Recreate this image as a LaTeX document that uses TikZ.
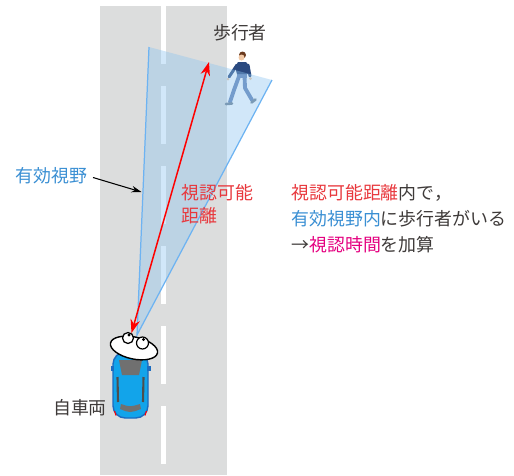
\documentclass[tikz,border=0pt]{standalone}
\usepackage{fontspec}
\setmainfont{Noto Sans CJK JP}
\usetikzlibrary{arrows.meta}
\definecolor{roadgray}{HTML}{DCDDDD}
\definecolor{viewblue}{HTML}{8CC4F0}
\definecolor{edgeblue}{HTML}{6DB3F2}
\definecolor{textred}{HTML}{E8383D}
\definecolor{arrowred}{HTML}{FF0000}
\definecolor{textblue}{HTML}{3A8FD3}
\definecolor{textpink}{HTML}{E4007F}
\definecolor{textgray}{HTML}{3E3A39}
\definecolor{carblue}{HTML}{12A4EA}
\definecolor{carline}{HTML}{1C6CC0}
\definecolor{glass}{HTML}{707070}
\definecolor{jacket}{HTML}{2B4A80}
\definecolor{pants}{HTML}{6482B4}
\definecolor{skin}{HTML}{F2C9A6}
\definecolor{hair}{HTML}{6B3A1E}
\definecolor{shoe}{HTML}{6F7F90}

\begin{document}
\begin{tikzpicture}[x=0.2mm,y=-0.2mm]
    \tikzset{lbl/.style={font=\fontsize{10.2pt}{12.75pt}\selectfont,inner sep=0pt,align=left}};
    \useasboundingbox (0,0) rectangle (514,475);
    % 道路と中央線
    \fill[roadgray] (100,6) rectangle (227,475);
    \foreach \y in {6,86,...,406} \fill[white] (160.5,\y) rectangle (165.5,\y+58);
    % 歩行者
    \fill[hair] (242.5,55) circle [radius=3.5];
    \fill[skin] (241.5,57.5) circle [radius=3];
    \draw[jacket,line width=1.7pt,line cap=round] (237,65) -- (229,77);
    \draw[jacket,line width=1.7pt,line cap=round] (248,65) -- (250,76);
    \fill[skin] (228,79) circle [radius=1.5];
    \fill[skin] (250.5,78.5) circle [radius=1.5];
    \fill[pants] (237,72) rectangle (247,78);
    \draw[pants,line width=2.2pt,line cap=round,line join=round] (239.5,75) -- (234,90) -- (230,102);
    \draw[pants,line width=2.2pt,line cap=round,line join=round] (244.5,75) -- (245,88) -- (252,100);
    \fill[jacket] (238,62) -- (246,62) -- (250,67) -- (249,74) -- (237,74) -- (235,67) -- cycle;
    \draw[shoe,line width=1.5pt,line cap=round] (226,104) -- (232,103.5);
    \draw[shoe,line width=1.5pt,line cap=round] (251.5,102.5) -- (255.5,99.5);
    \node[lbl,text=textgray] (hokosha) at (240,33) {歩行者};
    % 有効視野
    \coordinate (eye) at (137,335);
    \coordinate (fovL) at (149,47);
    \coordinate (fovR) at (272,80);
    \fill[viewblue,opacity=0.4] (eye) -- (fovL) -- (fovR) -- cycle;
    \draw[edgeblue,line width=0.7pt] (fovL) -- (eye) -- (fovR);
    \node[lbl,text=textblue,anchor=east] (shiya) at (88,176) {有効視野};
    \coordinate (fovpt) at (141.5,192);
    \draw[-{Stealth[length=2mm,width=1.3mm]},line width=0.6pt,shorten <=3pt] (shiya.east) -- (fovpt);
    % 自車両
    \draw[carline,fill=carblue,line width=0.8pt,rounded corners=7] (113,352) rectangle (148,418);
    \fill[carline] (110.5,366) rectangle (114,371);
    \fill[carline] (147,366) rectangle (150.5,371);
    \fill[glass] (119,360) -- (142,360) -- (139,375) -- (122,375) -- cycle;
    \draw[glass!70!black,line width=1.2pt] (117.5,377) -- (118,402);
    \draw[glass!70!black,line width=1.2pt] (143.5,377) -- (143,402);
    \fill[glass] (121,404) .. controls (130,407) .. (140,404) -- (141,409) .. controls (130,413) .. (120,409) -- cycle;
    \draw[red,line width=0.6pt] (114.5,411) -- (116,415.5);
    \draw[red,line width=0.6pt] (146.5,411) -- (145,415.5);
    \draw[fill=white,line width=0.8pt,rotate around={-12:(134,348)}] (134,348) ellipse [x radius=24,y radius=11];
    \draw[fill=white,line width=0.7pt] (128,338) circle [radius=5.5];
    \draw[fill=white,line width=0.7pt] (142.5,343) circle [radius=6];
    \fill (129,335) circle [radius=1.6];
    \fill (143.5,339.5) circle [radius=1.6];
    \node[lbl,text=textgray] (jisharyo) at (80,408) {自車両};
    % 視認可能距離
    \coordinate (near) at (131.5,333);
    \coordinate (far) at (209,62);
    \draw[arrowred,line width=0.85pt,{Stealth[length=2.7mm,width=1.9mm]}-{Stealth[length=2.7mm,width=1.9mm]}] (near) -- (far);
    \node[lbl,text=textred,anchor=west] (kyori) at (181,204) {視認可能\\距離};
    % 説明文
    \node[lbl,anchor=west,text=textgray,font=\fontsize{10.2pt}{14.7pt}\selectfont] (setsumei) at (291,219)
        {\textcolor{textred}{視認可能距離}内で，\\\textcolor{textblue}{有効視野内}に歩行者がいる\\→\textcolor{textpink}{視認時間}を加算};
\end{tikzpicture}
\end{document}
